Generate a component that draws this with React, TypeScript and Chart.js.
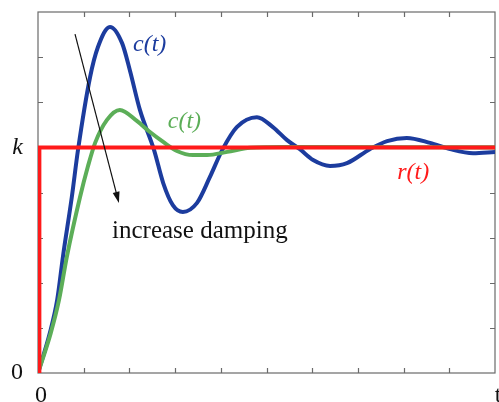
import { useEffect, useRef } from "react";
import { Chart, registerables } from "chart.js";

Chart.register(...registerables);

// ---- data ----
const tBlue = [0, 0.26, 0.42, 0.55, 0.74, 0.875, 1.14, 1.31, 1.575, 1.84, 2.01, 2.23, 2.54, 2.74, 2.95, 3.17, 3.48, 3.76, 4.03, 4.35, 4.79, 5.14, 5.45, 5.73, 6.02, 6.39, 6.76, 7.26, 7.64, 8.07, 8.58, 9.02, 9.52, 10];
const cBlue = [0, 0.89, 1.62, 2.61, 3.9, 4.94, 6.56, 7.22, 7.67, 7.31, 6.71, 5.83, 4.94, 4.21, 3.72, 3.57, 3.77, 4.34, 4.94, 5.45, 5.67, 5.45, 5.16, 4.96, 4.72, 4.59, 4.65, 4.96, 5.14, 5.21, 5.1, 4.96, 4.87, 4.9];

const tGreen = [0, 0.28, 0.46, 0.63, 0.92, 1.09, 1.25, 1.51, 1.79, 2.17, 2.45, 2.74, 3.04, 3.39, 3.7, 4.14, 4.64, 5.36, 10];
const cGreen = [0, 0.89, 1.62, 2.57, 3.9, 4.57, 5.1, 5.61, 5.83, 5.58, 5.34, 5.12, 4.92, 4.83, 4.83, 4.9, 4.99, 5.01, 5.0];

const tRef = [0.03, 0.03, 10];
const rRef = [0, 5, 5];

const xLabelValues = [0, 10];
const xLabelTexts = ["0", "t"];
const yLabelValues = [0, 5];
const yLabelTexts = ["0", "k"];
const xMinorTicks = [1, 2, 3, 4, 5, 6, 7, 8, 9];
const yMinorTicks = [1, 2, 3, 4, 5, 6, 7];

// ---- styling ----
const BLUE = "#1c3c9e";
const GREEN = "#5cae58";
const RED = "#ff1a1a";
const FONT = "'Liberation Serif', 'DejaVu Serif', serif";

const annotations = [
  { text: "c(t)", t: 2.08, y: 7.27, color: BLUE, italic: true, size: 24, baseline: "middle" },
  { text: "c(t)", t: 2.84, y: 5.58, color: GREEN, italic: true, size: 24, baseline: "middle" },
  { text: "r(t)", t: 7.86, y: 4.43, color: RED, italic: true, size: 24, baseline: "middle" },
  { text: "increase damping", t: 1.62, y: 2.99, color: "#111111", italic: false, size: 25, baseline: "alphabetic" },
];
const arrow = { t0: 0.81, y0: 7.51, t1: 1.77, y1: 3.77 };

const toPoints = (xs: number[], ys: number[]) => xs.map((x, i) => ({ x, y: ys[i] }));

const zeroPadding = (s: any) => {
  s.paddingTop = 0;
  s.paddingBottom = 0;
  s.paddingLeft = 0;
  s.paddingRight = 0;
};

const decorPlugin = {
  id: "decor",
  beforeDatasetsDraw(chart: any) {
    const { ctx, chartArea: a, scales } = chart;
    const x = scales.x;
    const y = scales.y;
    ctx.save();
    ctx.strokeStyle = "#6a6a6a";
    ctx.lineWidth = 1.2;
    ctx.strokeRect(a.left, a.top, a.right - a.left, a.bottom - a.top);
    ctx.beginPath();
    for (const v of xMinorTicks) {
      const px = Math.round(x.getPixelForValue(v)) + 0.5;
      ctx.moveTo(px, a.bottom);
      ctx.lineTo(px, a.bottom - 5);
      ctx.moveTo(px, a.top);
      ctx.lineTo(px, a.top + 5);
    }
    for (const v of yMinorTicks) {
      const py = Math.round(y.getPixelForValue(v)) + 0.5;
      ctx.moveTo(a.left, py);
      ctx.lineTo(a.left + 5, py);
      ctx.moveTo(a.right, py);
      ctx.lineTo(a.right - 5, py);
    }
    ctx.stroke();
    ctx.restore();
  },
  afterDatasetsDraw(chart: any) {
    const { ctx, scales } = chart;
    const x = scales.x;
    const y = scales.y;
    ctx.save();
    // arrow
    const x0 = x.getPixelForValue(arrow.t0);
    const y0 = y.getPixelForValue(arrow.y0);
    const x1 = x.getPixelForValue(arrow.t1);
    const y1 = y.getPixelForValue(arrow.y1);
    const ang = Math.atan2(y1 - y0, x1 - x0);
    const headLen = 11;
    const headW = 3.5;
    ctx.strokeStyle = "#111";
    ctx.fillStyle = "#111";
    ctx.lineWidth = 1.2;
    ctx.beginPath();
    ctx.moveTo(x0, y0);
    ctx.lineTo(x1 - headLen * 0.8 * Math.cos(ang), y1 - headLen * 0.8 * Math.sin(ang));
    ctx.stroke();
    ctx.beginPath();
    ctx.moveTo(x1, y1);
    ctx.lineTo(x1 - headLen * Math.cos(ang) + headW * Math.sin(ang), y1 - headLen * Math.sin(ang) - headW * Math.cos(ang));
    ctx.lineTo(x1 - headLen * Math.cos(ang) - headW * Math.sin(ang), y1 - headLen * Math.sin(ang) + headW * Math.cos(ang));
    ctx.closePath();
    ctx.fill();
    // texts
    for (const a of annotations) {
      ctx.font = `${a.italic ? "italic " : ""}${a.size}px ${FONT}`;
      ctx.fillStyle = a.color;
      ctx.textAlign = "left";
      ctx.textBaseline = a.baseline as CanvasTextBaseline;
      ctx.fillText(a.text, x.getPixelForValue(a.t), y.getPixelForValue(a.y));
    }
    ctx.restore();
  },
};

export default function App() {
  const ref = useRef<HTMLCanvasElement | null>(null);
  useEffect(() => {
    if (!ref.current) return;
    const chart = new Chart(ref.current, {
      type: "scatter",
      data: {
        datasets: [
          {
            label: "c(t) low damping",
            data: toPoints(tBlue, cBlue),
            showLine: true,
            borderColor: BLUE,
            borderWidth: 4,
            pointRadius: 0,
            cubicInterpolationMode: "monotone",
            order: 3,
          },
          {
            label: "c(t) high damping",
            data: toPoints(tGreen, cGreen),
            showLine: true,
            borderColor: GREEN,
            borderWidth: 4,
            pointRadius: 0,
            cubicInterpolationMode: "monotone",
            order: 2,
          },
          {
            label: "r(t)",
            data: toPoints(tRef, rRef),
            showLine: true,
            borderColor: RED,
            borderWidth: 4,
            pointRadius: 0,
            tension: 0,
            order: 1,
          },
        ],
      },
      options: {
        animation: false,
        responsive: false,
        events: [],
        layout: { padding: { top: 12, right: 4, left: 0, bottom: 0 } },
        plugins: { legend: { display: false }, tooltip: { enabled: false } },
        scales: {
          x: {
            type: "linear",
            min: 0,
            max: 10,
            grid: { display: false, drawTicks: false },
            border: { display: false },
            afterBuildTicks: (s: any) => {
              s.ticks = xLabelValues.map((v) => ({ value: v }));
            },
            afterFit: (s: any) => {
              s.height = 29;
              zeroPadding(s);
            },
            ticks: {
              autoSkip: false,
              maxRotation: 0,
              padding: 8,
              labelOffset: 3,
              color: "#111",
              font: { family: FONT, size: 24 },
              callback: (v: any) => xLabelTexts[xLabelValues.indexOf(Number(v))] ?? "",
            },
          },
          y: {
            type: "linear",
            min: 0,
            max: 8,
            grid: { display: false, drawTicks: false },
            border: { display: false },
            afterBuildTicks: (s: any) => {
              s.ticks = yLabelValues.map((v) => ({ value: v }));
            },
            afterFit: (s: any) => {
              s.width = 38;
              zeroPadding(s);
            },
            ticks: {
              autoSkip: false,
              padding: 15,
              color: "#111",
              font: (c: any) => ({
                family: FONT,
                size: 24,
                style: c.tick && c.tick.value === 5 ? "italic" : "normal",
              }),
              callback: (v: any) => yLabelTexts[yLabelValues.indexOf(Number(v))] ?? "",
            },
          },
        },
      },
      plugins: [decorPlugin],
    } as any);
    return () => chart.destroy();
  }, []);
  return (
    <div style={{ position: "absolute", left: 0, top: 0, width: 499, height: 402, background: "#fff" }}>
      <canvas ref={ref} width={499} height={402} style={{ display: "block" }} />
    </div>
  );
}
